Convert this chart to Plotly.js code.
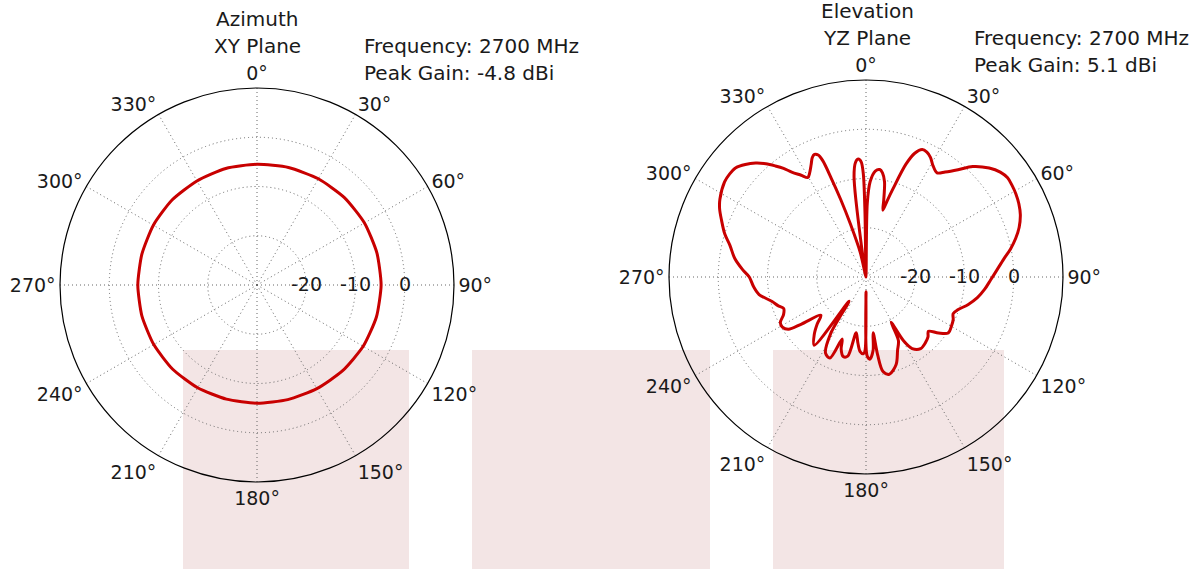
<!DOCTYPE html>
<html><head><meta charset="utf-8">
<script src="https://cdn.plot.ly/plotly-3.0.1.min.js"></script>
<style>html,body{margin:0;padding:0;background:#fff}#chart{width:1198px;height:569px}</style>
</head><body><div id="chart"></div>
<script>
// Azimuth (XY plane) pattern, degrees / dBi
const azTheta = [0,15,30,45,60,75,90,105,120,135,150,165,180,195,210,225,240,255,270,285,300,315,330,345,360];
const azGain  = [-5.5,-5.3,-5.1,-4.9,-4.8,-4.8,-4.8,-4.9,-5.1,-5.4,-5.7,-5.9,-6.0,-6.0,-5.9,-5.8,-5.8,-5.8,-5.8,-5.8,-5.7,-5.6,-5.6,-5.5,-5.5];

// Elevation (YZ plane) pattern, degrees / dBi
const elTheta = [0,1,2.5,5,7.3,9,11,13,14.2,15.5,17,19.5,21.5,23.8,26,28.3,31,34.3,37,40.6,44,48.5,52,55,58,61,64.5,68,72,75.5,79,82.6,87,91.4,96,100.5,105,109.7,112.8,116,119.7,124.2,127.7,131,134,138,142.7,147.2,149.5,151,153,156.7,161,166.5,169.8,171.5,172.7,174.5,177.3,179.2,180,180.8,182,184.5,187,190,193,196,199,201,204,208,212,215,217.2,222,226,229.7,233.9,236,239,242,245.5,249,252,255.4,260.7,265,270,273.4,278,283.2,287,291.4,295,298,303.9,307,310,313,315.9,318.5,320.8,322.8,324.7,327.5,329.7,331.5,334,335.8,337.2,338.6,339.6,340.6,341.9,343.6,346.8,350,351.6,353.2,354.8,356.3,357.6,358.5,359.1,360];
const elGain  = [-30,-15,-10.6,-8.4,-8.0,-8.6,-10.3,-14,-16,-14,-11.3,-5.7,-3,-1.7,-1.8,-2.4,-3.6,-4.4,-3.3,-1.3,1.2,3.4,4.6,5.1,5.0,4.8,4.4,3.8,2.7,1.4,-0.1,-1.8,-3.4,-4.7,-5.8,-7.0,-8.5,-10.2,-10.8,-10.3,-10.0,-9.8,-11.4,-13.2,-12.5,-12.0,-11.7,-12.7,-14.9,-19.5,-15.5,-13.8,-11.2,-9.7,-10.5,-14,-18.6,-15,-13.3,-14,-27,-15,-14.4,-14.8,-16.5,-18.5,-13.5,-13.2,-14.5,-16.5,-12,-12.5,-16.5,-24,-12.6,-14.3,-16.2,-18,-13.8,-11,-10.2,-10.3,-11.6,-12.1,-11.2,-10.3,-8.0,-7.1,-6.3,-4.9,-3.1,-1.6,0,1.5,2.8,3.6,4.6,4.7,4.5,3.5,2.2,0.7,-0.9,-2.3,-3.9,-5.5,-6.6,-6.0,-4.6,-3.4,-3.0,-3.4,-4.8,-8.7,-13.4,-18.8,-24.8,-30,-24.2,-9.5,-6.6,-6.0,-6.6,-9.0,-17.1,-30];

const angularTicks = [0,30,60,90,120,150,180,210,240,270,300,330];
const radialTicks = [-20,-10,0];
const radialRange = [-30,10];

const FONT = 'DejaVu Sans, sans-serif';
const txt = '#1a1a1a';
const GRID = '#666666';
const DOT = '1px,3px';

function polarCfg(xd, yd) {
  return {
    domain: {x: xd, y: yd},
    bgcolor: 'rgba(0,0,0,0)',
    radialaxis: {
      range: radialRange, tickvals: radialTicks, showticklabels: false,
      showline: false, ticks: '', angle: 0,
      gridcolor: GRID, griddash: DOT, gridwidth: 1
    },
    angularaxis: {
      rotation: 90, direction: 'clockwise',
      tickvals: angularTicks, ticktext: angularTicks.map(a => a + '°'),
      showline: true, linecolor: '#000', linewidth: 1.2, ticks: '',
      gridcolor: GRID, griddash: DOT, gridwidth: 1,
      tickfont: {family: FONT, size: 19, color: txt}
    }
  };
}

const W = 1198, H = 569, R = 197;
const centers = [[257, 285], [866, 277]];
function dom(c) {
  return [[(c[0] - R) / W, (c[0] + R) / W], [(H - c[1] - R) / H, (H - c[1] + R) / H]];
}
const dL = dom(centers[0]), dR = dom(centers[1]);

const traces = [
  {type: 'scatterpolar', subplot: 'polar', theta: azTheta, r: azGain, mode: 'lines',
   line: {color: '#c80000', width: 3, shape: 'spline', smoothing: 0.6}, hoverinfo: 'skip'},
  {type: 'scatterpolar', subplot: 'polar2', theta: elTheta, r: elGain, mode: 'lines',
   line: {color: '#c80000', width: 3, shape: 'spline', smoothing: 0.9}, hoverinfo: 'skip'}
];

function ann(text, x, y, xanchor, size) {
  return {text, x: x / W, y: 1 - y / H, xref: 'paper', yref: 'paper', xanchor, yanchor: 'middle',
          showarrow: false, font: {family: FONT, size: size || 20, color: txt}};
}

// radial tick labels sit centred on the 90° spoke, placed through the radial scale
const radialLabels = [];
centers.forEach(c => {
  radialTicks.forEach(v => {
    const px = c[0] + (v - radialRange[0]) / (radialRange[1] - radialRange[0]) * R;
    radialLabels.push(ann(String(v), px, c[1] - 1, 'center', 19));
  });
});

const layout = {
  width: W, height: H, margin: {l: 0, r: 0, t: 0, b: 0},
  paper_bgcolor: '#fff', showlegend: false,
  polar: polarCfg(dL[0], dL[1]),
  polar2: polarCfg(dR[0], dR[1]),
  shapes: [
    {type: 'rect', xref: 'paper', yref: 'paper', x0: 183 / W, x1: 409 / W, y0: 0, y1: (H - 350) / H, fillcolor: '#f3e5e5', line: {width: 0}, layer: 'below'},
    {type: 'rect', xref: 'paper', yref: 'paper', x0: 472 / W, x1: 710 / W, y0: 0, y1: (H - 350) / H, fillcolor: '#f3e5e5', line: {width: 0}, layer: 'below'},
    {type: 'rect', xref: 'paper', yref: 'paper', x0: 773 / W, x1: 1004 / W, y0: 0, y1: (H - 350) / H, fillcolor: '#f3e5e5', line: {width: 0}, layer: 'below'}
  ],
  annotations: [
    ann('Azimuth', 257, 19, 'center'),
    ann('XY Plane', 257, 46, 'center'),
    ann('Frequency: 2700 MHz', 362, 46, 'left'),
    ann('Peak Gain: -4.8 dBi', 362, 73, 'left'),
    ann('Elevation', 867, 11, 'center'),
    ann('YZ Plane', 867, 38, 'center'),
    ann('Frequency: 2700 MHz', 972, 38, 'left'),
    ann('Peak Gain: 5.1 dBi', 972, 65, 'left')
  ].concat(radialLabels)
};

Plotly.newPlot('chart', traces, layout, {staticPlot: true, displayModeBar: false});
</script>
</body></html>
